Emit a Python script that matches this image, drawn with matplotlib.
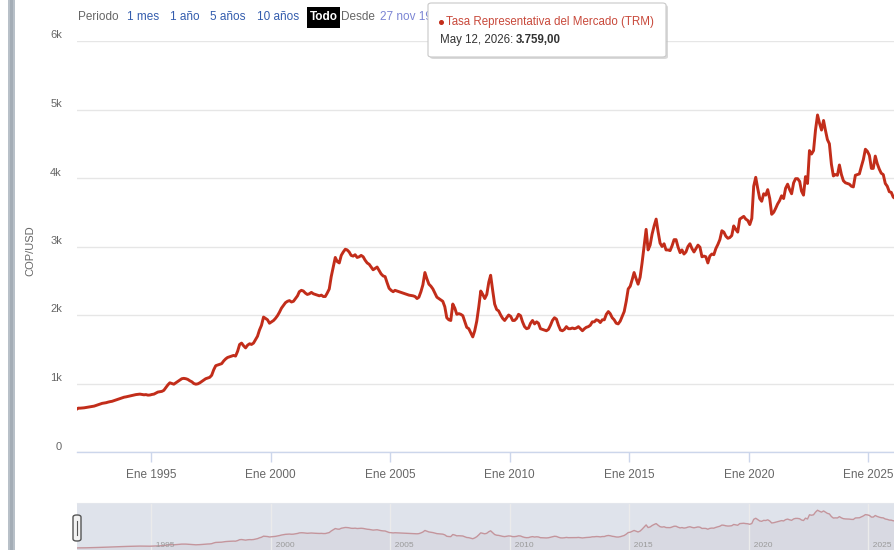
import matplotlib
matplotlib.use("Agg")
import matplotlib.pyplot as plt
from matplotlib.patches import Rectangle, FancyBboxPatch
from matplotlib.transforms import ScaledTranslation
import pandas as pd
import numpy as np

plt.rcParams['font.family'] = ['Liberation Sans', 'DejaVu Sans']

# ---- data: monthly TRM (COP per USD), Nov 1991 .. May 2026 ----
trm_1991_1999 = [
    628, 640,
    640, 642, 645, 650, 655, 660, 665, 670, 680, 690, 700, 710,
    715, 720, 728, 735, 740, 750, 760, 770, 780, 790, 800, 805,
    812, 818, 825, 832, 838, 842, 845, 840, 835, 838, 830, 832,
    840, 845, 860, 875, 880, 885, 900, 940, 980, 1010, 1000, 990,
    1010, 1030, 1050, 1070, 1075, 1070, 1060, 1040, 1025, 1000, 990, 995,
    1010, 1030, 1050, 1070, 1080, 1090, 1120, 1200, 1260, 1270, 1280, 1290,
    1330, 1360, 1380, 1390, 1400, 1410, 1400, 1470, 1570, 1590, 1550, 1520,
    1560, 1580, 1570, 1590, 1640, 1690, 1780, 1850, 1970, 1950, 1930, 1880,
]
trm_2000_2009 = [
    1900, 1920, 1950, 1990, 2040, 2100, 2140, 2180, 2200, 2210, 2190, 2200,
    2240, 2280, 2340, 2360, 2350, 2320, 2300, 2310, 2330, 2310, 2300, 2290,
    2280, 2290, 2270, 2270, 2320, 2380, 2560, 2700, 2840, 2780, 2760, 2870,
    2920, 2960, 2950, 2920, 2870, 2860, 2880, 2840, 2850, 2870, 2850, 2800,
    2760, 2740, 2700, 2660, 2680, 2700, 2650, 2600, 2570, 2560, 2470, 2390,
    2360, 2340, 2360, 2350, 2340, 2330, 2320, 2310, 2300, 2290, 2285, 2280,
    2270, 2240, 2260, 2340, 2440, 2620, 2530, 2450, 2420, 2380, 2320, 2260,
    2240, 2220, 2200, 2120, 1960, 1930, 1920, 2160, 2100, 2010, 2020, 2010,
    1990, 1900, 1820, 1800, 1740, 1680, 1770, 1910, 2120, 2350, 2300, 2240,
    2300, 2480, 2580, 2360, 2160, 2080, 2060, 2000, 1950, 1920, 1960, 2000,
]
trm_2010_2019 = [
    1980, 1920, 1920, 1950, 2010, 1990, 1900, 1830, 1800, 1810, 1880, 1920,
    1870, 1900, 1880, 1800, 1790, 1780, 1770, 1790, 1850, 1920, 1960, 1940,
    1850, 1780, 1770, 1790, 1830, 1800, 1800, 1810, 1800, 1810, 1830, 1800,
    1770, 1800, 1820, 1830, 1850, 1900, 1900, 1930, 1920, 1890, 1930, 1930,
    2010, 2050, 2020, 1960, 1930, 1880, 1870, 1910, 1980, 2050, 2200, 2380,
    2420, 2520, 2620, 2530, 2450, 2550, 2760, 3000, 3250, 2950, 3020, 3180,
    3300, 3400, 3220, 3050, 3000, 3040, 2950, 2950, 2940, 3010, 3100, 3100,
    2990, 2910, 2950, 2890, 2920, 3000, 3040, 2970, 2920, 2970, 3020, 2990,
    2850, 2860, 2850, 2760, 2860, 2890, 2880, 2970, 3030, 3100, 3230, 3210,
    3150, 3120, 3130, 3160, 3300, 3250, 3210, 3400, 3420, 3440, 3400, 3380,
]
trm_2020_2026 = [
    3320, 3410, 3880, 4010, 3850, 3700, 3660, 3770, 3750, 3830, 3700, 3470,
    3500, 3560, 3620, 3670, 3740, 3700, 3850, 3910, 3830, 3770, 3930, 3990,
    3990, 3950, 3810, 3750, 4020, 3920, 4400, 4350, 4400, 4700, 4920, 4800,
    4700, 4840, 4700, 4560, 4500, 4200, 4030, 4050, 4040, 4190, 4050, 3960,
    3930, 3920, 3910, 3880, 3870, 4040, 4050, 4060, 4170, 4270, 4420, 4390,
    4330, 4140, 4140, 4320, 4210, 4130, 4070, 4050, 3920, 3880, 3800, 3790,
    3720, 3700, 3740, 3730, 3759,
]
start_date = "1991-11-27"
last_date = "2026-05-12"
tick_years = [1995, 2000, 2005, 2010, 2015, 2020, 2025]
tick_labels = [f"Ene {y}" for y in tick_years]
y_ticks = [0, 1000, 2000, 3000, 4000, 5000, 6000]
y_tick_labels = ["0", "1k", "2k", "3k", "4k", "5k", "6k"]
series_name = "Tasa Representativa del Mercado (TRM)"
tooltip_date = "May 12, 2026: "
tooltip_value = "3.759,00"
range_buttons = ["1 mes", "1 año", "5 años", "10 años"]

values = np.array(trm_1991_1999 + trm_2000_2009 + trm_2010_2019 + trm_2020_2026, dtype=float)
dates = pd.date_range("1991-11-01", periods=len(values), freq="MS") + pd.Timedelta(days=14)
dates = dates.to_list()
dates[0] = pd.Timestamp(start_date)
dates[-1] = pd.Timestamp(last_date)
dates = pd.DatetimeIndex(dates)

W, H = 894, 550
fig = plt.figure(figsize=(W / 100, H / 100), dpi=100)
fig.patch.set_facecolor("white")

def fx(x):
    return x / W

def fy(y):
    return 1 - y / H

PX = 72 / 100  # points per pixel

x_left = pd.Timestamp(start_date)
x_right = pd.Timestamp("2026-01-26")

# ---- main axes ----
ax = fig.add_axes([fx(77), fy(452), fx(894) - fx(77), fy(41) - fy(452)])
ax.set_facecolor("white")
ax.plot(dates, values, color="#c22d1a", lw=2.1, solid_joinstyle="round", zorder=3)
ax.set_xlim(x_left, x_right)
ax.set_ylim(0, 6000)
ax.set_yticks(y_ticks)
ax.set_yticklabels(y_tick_labels)
ax.grid(axis="y", color="#e6e6e6", lw=1)
ax.set_axisbelow(True)
for s in ["top", "right", "left"]:
    ax.spines[s].set_visible(False)
ax.spines["bottom"].set_color("#ccd6eb")
ax.spines["bottom"].set_linewidth(1)
ax.set_xticks([pd.Timestamp(f"{y}-01-01") for y in tick_years])
ax.set_xticklabels(tick_labels)
ax.tick_params(axis="x", length=10 * PX, color="#ccd6eb", width=1, pad=7 * PX,
               labelsize=8.5, labelcolor="#666666")
ax.tick_params(axis="y", length=0, pad=15 * PX, labelsize=8, labelcolor="#666666")
for lab in ax.get_yticklabels():
    lab.set_transform(lab.get_transform() + ScaledTranslation(0, 6.5 / 100, fig.dpi_scale_trans))
ax.set_ylabel("COP/USD", color="#666666", fontsize=8)
ax.yaxis.set_label_coords((35 - 77) / 817, 0.49)

# ---- navigator ----
nav = fig.add_axes([fx(77), 0, fx(894) - fx(77), fy(503)])
nav.set_facecolor("#dfe3eb")
nav.fill_between(dates, values, 0, color="#d8d9e2", lw=0)
nav.plot(dates, values, color="#c4959c", lw=1)
nav.set_xlim(x_left, x_right)
nav.set_ylim(400, 5740)
nav.set_xticks([pd.Timestamp(f"{y}-01-01") for y in tick_years])
nav.grid(axis="x", color="#ebebeb", lw=1)
nav.set_yticks([])
nav.tick_params(axis="x", length=0, labelbottom=False)
for s in nav.spines.values():
    s.set_visible(False)
nav.spines["top"].set_visible(True)
nav.spines["top"].set_color("#e3e6ec")
for y in tick_years:
    nav.text(pd.Timestamp(f"{y}-01-01"), 0.02, f"  {y}", transform=nav.get_xaxis_transform(),
             fontsize=6, color="#9a9a9a", ha="left", va="bottom")
# handle
fig.patches.append(FancyBboxPatch((fx(73), fy(541)), fx(81) - fx(73), fy(515) - fy(541),
                                  boxstyle="round,pad=0,rounding_size=0.004",
                                  transform=fig.transFigure, facecolor="#f2f2f2",
                                  edgecolor="#555555", lw=1, zorder=5))
fig.lines.append(plt.Line2D([fx(76.5), fx(76.5)], [fy(535), fy(521)], transform=fig.transFigure,
                            color="#555555", lw=0.8, zorder=6))

# ---- left border bar ----
fig.patches.append(Rectangle((fx(8), 0), fx(7), 1, transform=fig.transFigure,
                             facecolor="#b8c0c8", edgecolor="none", zorder=1))
fig.patches.append(Rectangle((fx(10), 0), fx(3), 1, transform=fig.transFigure,
                             facecolor="#a4adb6", edgecolor="none", zorder=1))

# ---- range selector row ----
ty = fy(17)
fs_top = 8.5
fig.text(fx(78), ty, "Periodo", fontsize=fs_top, color="#666666", va="center")
btn_x = [127, 170, 210, 257]
for bx, label in zip(btn_x, range_buttons):
    fig.text(fx(bx), ty, label, fontsize=fs_top, color="#335cad", va="center")
fig.patches.append(Rectangle((fx(307), fy(28)), fx(33), fy(7) - fy(28), transform=fig.transFigure,
                             facecolor="black", edgecolor="none", zorder=2))
fig.text(fx(323.5), ty, "Todo", fontsize=fs_top, color="white", fontweight="bold",
         ha="center", va="center", zorder=3)
fig.text(fx(341), ty, "Desde", fontsize=fs_top, color="#666666", va="center")
fig.text(fx(380), ty, "27 nov 1991", fontsize=fs_top, color="#7b85d4", va="center")

# ---- tooltip ----
fig.patches.append(FancyBboxPatch((fx(430), fy(59)), fx(238), fy(3) - fy(57),
                                  boxstyle="round,pad=0,rounding_size=0.004",
                                  transform=fig.transFigure,
                                  facecolor="#bbbbbb", edgecolor="none", alpha=0.55, zorder=8))
fig.patches.append(FancyBboxPatch((fx(428), fy(57)), fx(238), fy(3) - fy(57),
                                  boxstyle="round,pad=0,rounding_size=0.004",
                                  transform=fig.transFigure,
                                  facecolor="white", edgecolor="#c9c9c9", lw=0.8, zorder=9))
fig.lines.append(plt.Line2D([fx(441)], [fy(22)], transform=fig.transFigure, marker="o",
                            markersize=2.6, color="#c22d1a", lw=0, zorder=10))
fig.text(fx(446), fy(22), series_name, fontsize=8.3, color="#c8483a", va="center", zorder=10)
fig.text(fx(440), fy(40), tooltip_date, fontsize=8.3, color="#333333", va="center", zorder=10)
fig.text(fx(516), fy(40), tooltip_value, fontsize=8.3, color="#333333", fontweight="bold",
         va="center", zorder=10)

fig.savefig("out.png", dpi=100, facecolor="white")
